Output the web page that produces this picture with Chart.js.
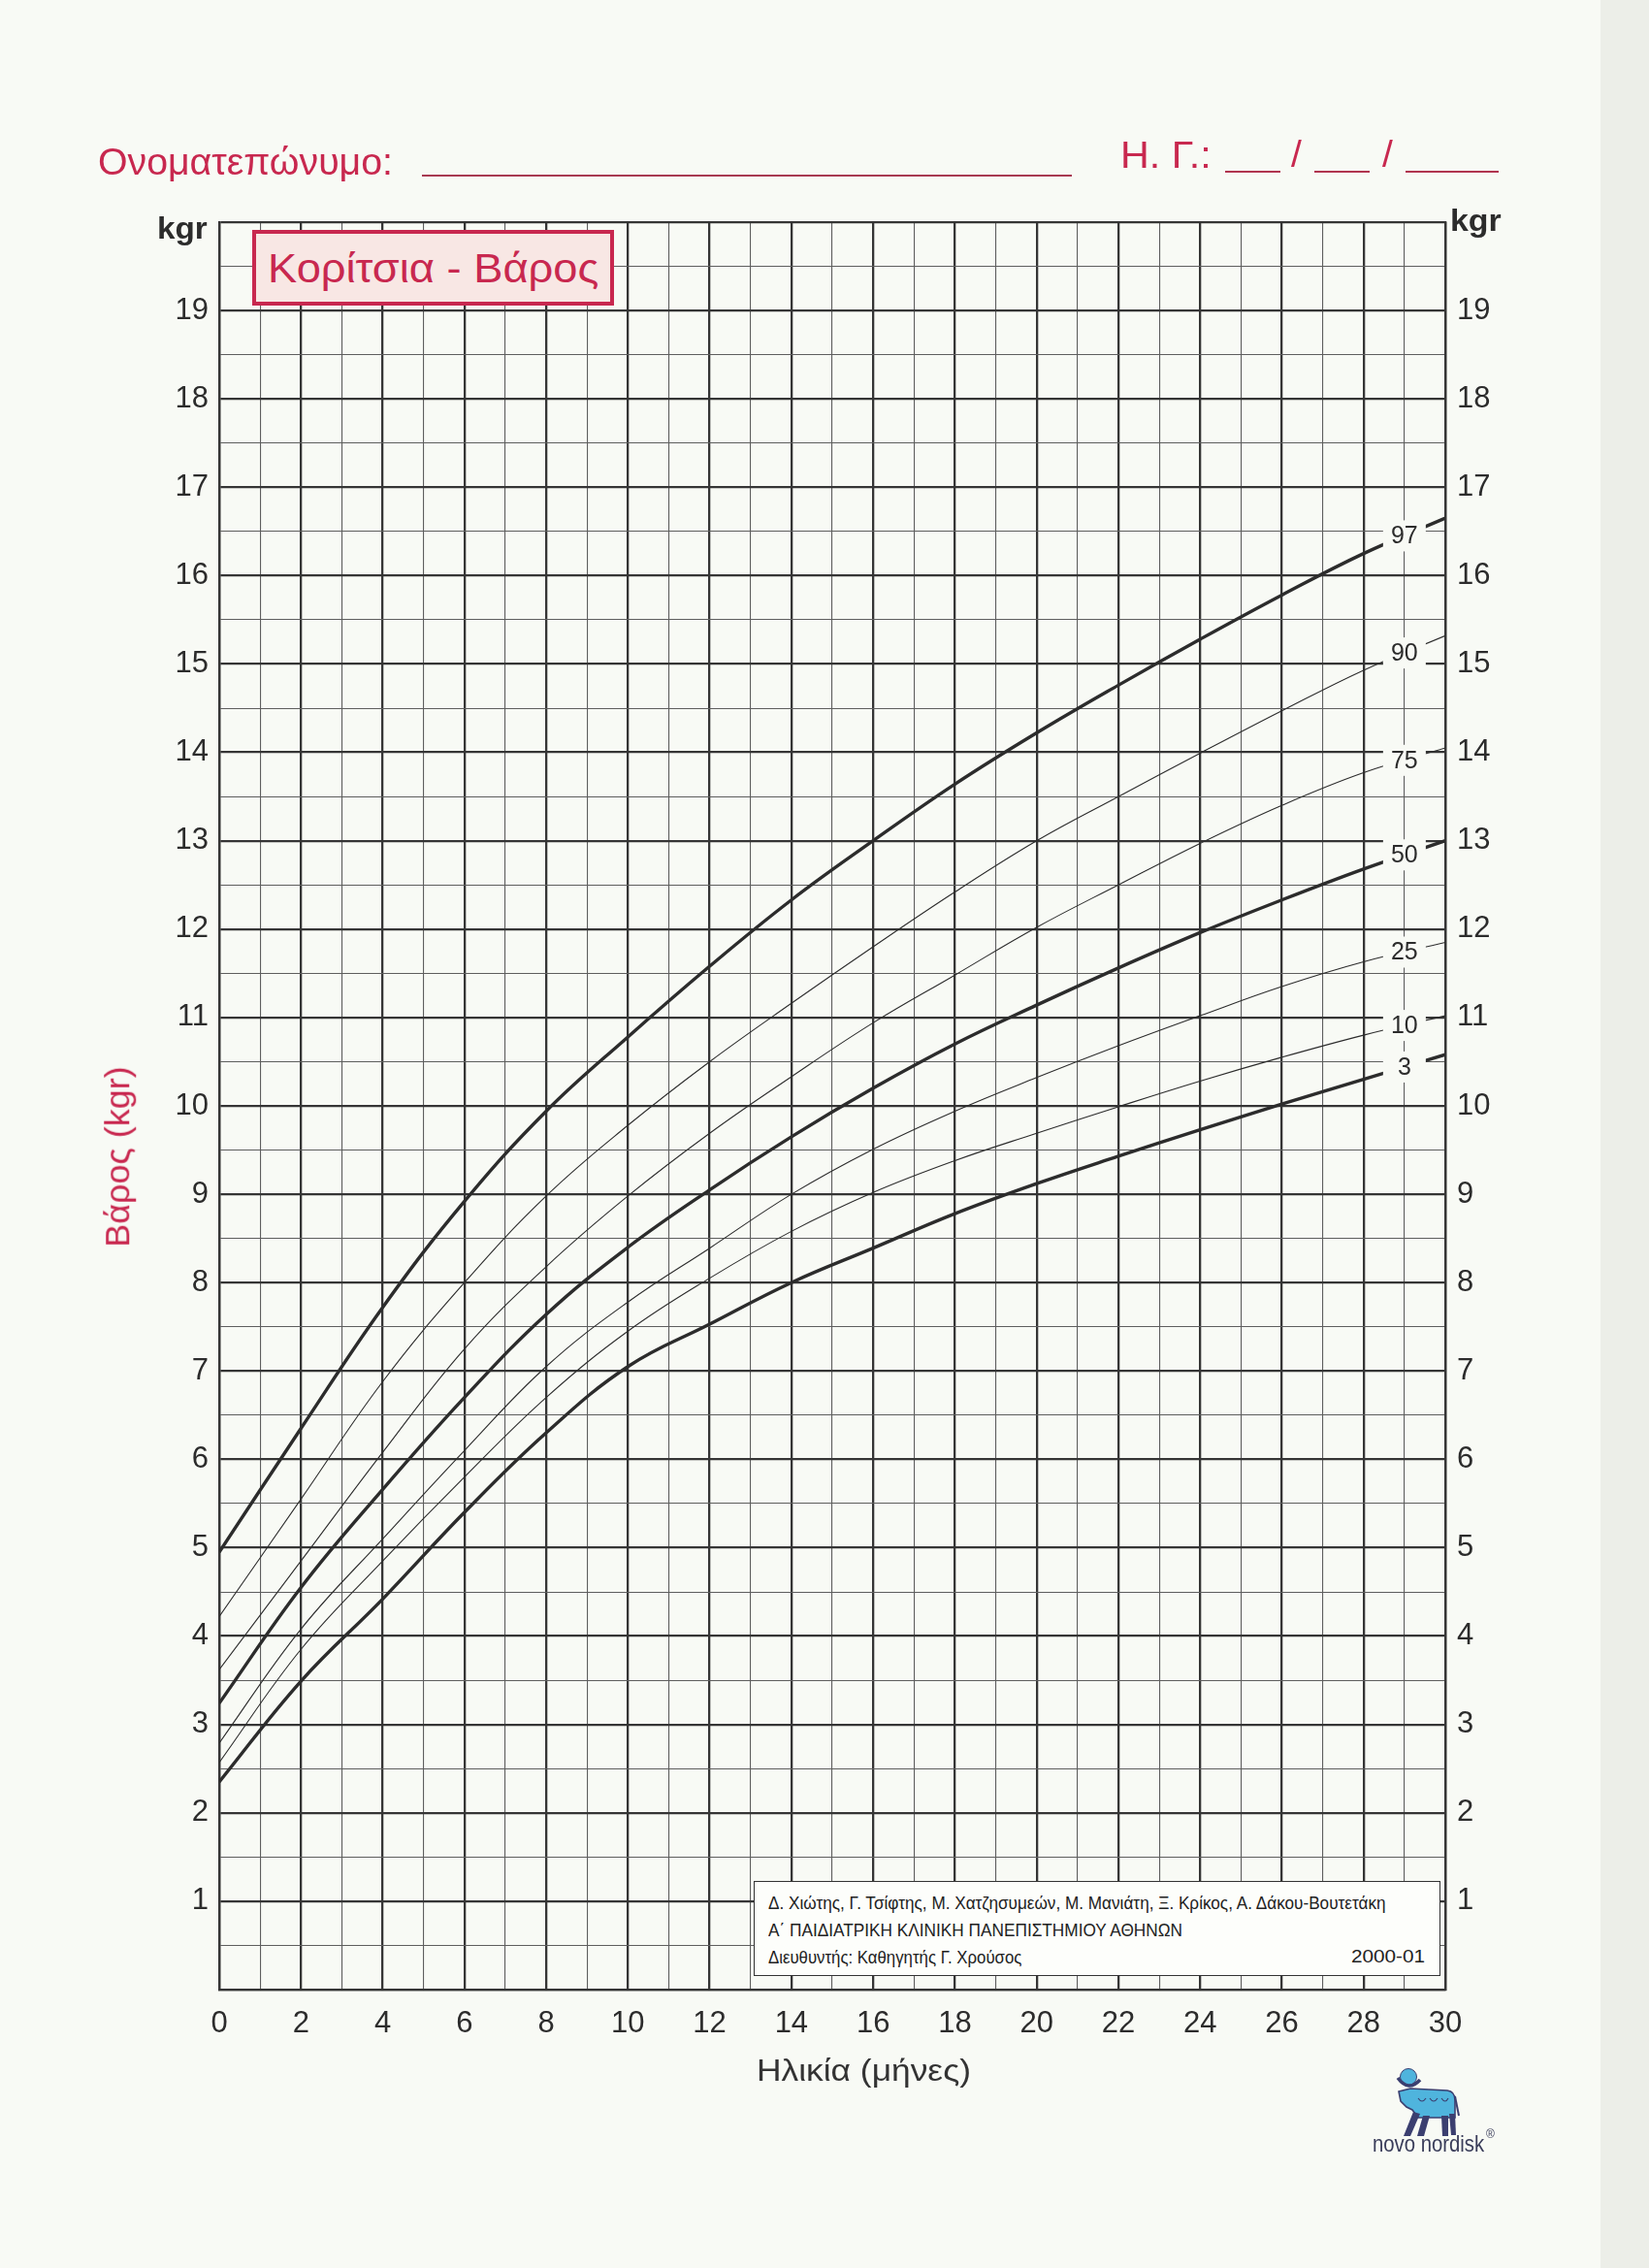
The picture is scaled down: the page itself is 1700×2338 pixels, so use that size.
<!DOCTYPE html>
<html>
<head>
<meta charset="utf-8">
<script src="https://cdn.jsdelivr.net/npm/chart.js@4.4.1/dist/chart.umd.min.js"></script>
<style>
  html, body { margin: 0; padding: 0; background: #f8faf5; }
  #page { position: relative; width: 1700px; height: 2338px; overflow: hidden; background: #f8faf5; }
  #edge { position: absolute; left: 1650px; top: 0; width: 50px; height: 2338px; background: #eceee8; }
  #chart { position: absolute; left: 0; top: 0; }
  .t { position: absolute; white-space: nowrap; font-family: "Liberation Sans", Arial, sans-serif; line-height: 1; }
  .box { position: absolute; box-sizing: border-box; }
  .hl { position: absolute; height: 0; border-top: 2px solid #b0354f; }
</style>
</head>
<body>
<div id="page">
  <div id="edge"></div>
  <canvas id="chart" width="1700" height="2338"></canvas>
</div>
<script>
// ---------------- DATA ----------------
const MONTHS = [0, 2, 4, 6, 8, 10, 12, 14, 16, 18, 20, 22, 24, 26, 28, 30];
const P97 = [4.95, 6.35, 7.72, 8.92, 9.94, 10.78, 11.58, 12.33, 13.00, 13.64, 14.22, 14.76, 15.28, 15.78, 16.25, 16.65];
const P90 = [4.22, 5.55, 6.88, 8.00, 8.98, 9.78, 10.50, 11.16, 11.80, 12.42, 13.00, 13.50, 13.99, 14.47, 14.93, 15.32];
const P75 = [3.62, 4.85, 6.08, 7.25, 8.18, 8.98, 9.69, 10.33, 10.94, 11.48, 12.02, 12.50, 12.97, 13.40, 13.77, 14.05];
const P50 = [3.24, 4.55, 5.66, 6.70, 7.64, 8.40, 9.05, 9.65, 10.20, 10.70, 11.14, 11.56, 11.96, 12.33, 12.68, 13.00];
const P25 = [2.79, 4.08, 5.10, 6.10, 7.05, 7.78, 8.39, 9.00, 9.51, 9.94, 10.32, 10.68, 11.02, 11.35, 11.63, 11.85];
const P10 = [2.57, 3.85, 4.85, 5.80, 6.70, 7.45, 8.05, 8.58, 9.02, 9.38, 9.69, 9.99, 10.28, 10.55, 10.80, 11.02];
const P3  = [2.35, 3.49, 4.42, 5.40, 6.30, 7.05, 7.53, 8.00, 8.39, 8.78, 9.12, 9.43, 9.73, 10.02, 10.30, 10.58];

const SERIES_NAMES = ['97', '90', '75', '50', '25', '10', '3'];
const SERIES_VALUES = [P97, P90, P75, P50, P25, P10, P3];
const THICK_SERIES = ['97', '50', '3'];
const LABEL_MONTH = 29;

const X_TICK_LABELS = [0, 2, 4, 6, 8, 10, 12, 14, 16, 18, 20, 22, 24, 26, 28, 30];
const Y_TICK_LABELS = [1, 2, 3, 4, 5, 6, 7, 8, 9, 10, 11, 12, 13, 14, 15, 16, 17, 18, 19];
const X_MIN = 0, X_MAX = 30, Y_MIN = 0, Y_MAX = 20;

// ---------------- STYLE ----------------
const PAPER = '#f8faf5';
const INK = '#2c2c2c';
const MAJOR = '#353535';
const MINOR = '#5e5e5e';
const CRIMSON = '#c8284f';
const TICK_FONT = { family: '"Liberation Sans", Arial, sans-serif', size: 31 };

function lerpAt(month, vals) {
  for (let i = 0; i < MONTHS.length - 1; i++) {
    if (month >= MONTHS[i] && month <= MONTHS[i + 1]) {
      const f = (month - MONTHS[i]) / (MONTHS[i + 1] - MONTHS[i]);
      return vals[i] + f * (vals[i + 1] - vals[i]);
    }
  }
  return vals[vals.length - 1];
}

const datasets = SERIES_NAMES.map((name, k) => ({
  label: name,
  data: MONTHS.map((m, i) => ({ x: m, y: SERIES_VALUES[k][i] })),
  borderColor: INK,
  borderWidth: THICK_SERIES.includes(name) ? 3.4 : 1.1,
  pointRadius: 0,
  tension: 0.4,
  fill: false
}));

const curveLabels = {
  id: 'curveLabels',
  afterDatasetsDraw(chart) {
    const ctx = chart.ctx;
    const xs = chart.scales.x, ys = chart.scales.y;
    ctx.save();
    ctx.font = '25px "Liberation Sans", Arial, sans-serif';
    ctx.textAlign = 'center';
    ctx.textBaseline = 'middle';
    SERIES_NAMES.forEach((name, k) => {
      const v = lerpAt(LABEL_MONTH, SERIES_VALUES[k]);
      const px = xs.getPixelForValue(LABEL_MONTH);
      const py = ys.getPixelForValue(v);
      ctx.fillStyle = PAPER;
      ctx.fillRect(px - 22, py - 16, 44, 32);
      ctx.fillStyle = INK;
      ctx.fillText(name, px, py + 1);
    });
    ctx.restore();
  }
};

const chart = new Chart(document.getElementById('chart'), {
  type: 'line',
  data: { datasets },
  options: {
    responsive: false,
    devicePixelRatio: 1,
    animation: false,
    events: [],
    layout: { padding: { top: 229, left: 0, right: 0, bottom: 0 } },
    plugins: { legend: { display: false }, tooltip: { enabled: false }, title: { display: false } },
    scales: {
      x: {
        type: 'linear', min: X_MIN, max: X_MAX,
        afterFit(s) { s.height = 287; },
        border: { display: true, color: MAJOR, width: 2.3 },
        grid: {
          drawTicks: false,
          color: ctx => (ctx.tick.value % 2 === 0 ? MAJOR : MINOR),
          lineWidth: ctx => (ctx.tick.value % 2 === 0 ? 2.3 : 1.1)
        },
        ticks: {
          stepSize: 1, autoSkip: false, maxRotation: 0, minRotation: 0, padding: 17,
          color: INK, font: TICK_FONT,
          callback: v => (X_TICK_LABELS.includes(v) ? String(v) : '')
        }
      },
      y: {
        type: 'linear', position: 'left', min: Y_MIN, max: Y_MAX,
        afterFit(s) { s.width = 226; },
        border: { display: true, color: MAJOR, width: 2.3 },
        grid: {
          drawTicks: false,
          color: ctx => (Number.isInteger(ctx.tick.value) ? MAJOR : MINOR),
          lineWidth: ctx => (Number.isInteger(ctx.tick.value) ? 2.3 : 1.1)
        },
        ticks: {
          stepSize: 0.5, autoSkip: false, padding: 11, color: INK, font: TICK_FONT,
          callback: v => (Y_TICK_LABELS.includes(v) ? String(v) : '')
        }
      },
      y2: {
        type: 'linear', position: 'right', min: Y_MIN, max: Y_MAX,
        afterFit(s) { s.width = 210; },
        border: { display: true, color: MAJOR, width: 2.3 },
        grid: { display: false, drawTicks: false },
        ticks: {
          stepSize: 1, autoSkip: false, padding: 12, color: INK, font: TICK_FONT,
          callback: v => (Y_TICK_LABELS.includes(v) ? String(v) : '')
        }
      }
    }
  },
  plugins: [curveLabels]
});

// ---------------- HTML TEXT & DECORATIONS ----------------
const page = document.getElementById('page');

function place(txt, o) {
  const s = document.createElement('span');
  s.className = 't';
  s.textContent = txt;
  s.style.fontSize = o.fs + 'px';
  if (o.bold) s.style.fontWeight = 'bold';
  s.style.color = o.color || INK;
  page.appendChild(s);
  const w = s.offsetWidth, h = s.offsetHeight;
  const k = o.w ? o.w / w : 1;
  if (o.rot) {
    s.style.left = (o.cx - w / 2) + 'px';
    s.style.top = (o.cy - h / 2) + 'px';
    s.style.transform = 'rotate(-90deg) scaleX(' + k + ')';
  } else {
    const dw = w * k;
    const left = o.align === 'right' ? o.x - dw : (o.align === 'center' ? o.x - dw / 2 : o.x);
    s.style.left = left + 'px';
    s.style.top = (o.base - 0.847 * o.fs) + 'px';
    s.style.transformOrigin = '0 0';
    s.style.transform = 'scaleX(' + k + ')';
  }
  return s;
}
function hline(x1, x2, y, color) {
  const d = document.createElement('div');
  d.className = 'hl';
  d.style.left = x1 + 'px'; d.style.top = y + 'px'; d.style.width = (x2 - x1) + 'px';
  if (color) d.style.borderTopColor = color;
  page.appendChild(d);
}
function box(x, y, w, h, css) {
  const d = document.createElement('div');
  d.className = 'box';
  d.style.left = x + 'px'; d.style.top = y + 'px'; d.style.width = w + 'px'; d.style.height = h + 'px';
  Object.assign(d.style, css);
  page.appendChild(d);
  return d;
}

// Header
place('Ονοματεπώνυμο:', { x: 101, base: 180, fs: 39, color: CRIMSON, w: 304 });
hline(435, 1105, 180, '#a83a52');
place('Η. Γ.:', { x: 1155, base: 173, fs: 39, color: CRIMSON, w: 94 });
hline(1263, 1320, 176);
place('/', { x: 1331, base: 172, fs: 39, color: CRIMSON });
hline(1355, 1412, 176);
place('/', { x: 1425, base: 172, fs: 39, color: CRIMSON });
hline(1449, 1545, 176);

// Title box
box(260, 237, 373, 78, { border: '4px solid ' + CRIMSON, background: '#f8e7e4' });
place('Κορίτσια - Βάρος', { x: 276, base: 291, fs: 43, color: CRIMSON, w: 341 });

// kgr units
place('kgr', { x: 214, base: 246, fs: 32, bold: true, align: 'right', w: 52 });
place('kgr', { x: 1495, base: 238, fs: 32, bold: true, w: 53 });

// Axis titles
place('Βάρος (kgr)', { rot: true, cx: 120, cy: 1192, fs: 35, color: CRIMSON, w: 186 });
place('Ηλικία (μήνες)', { x: 780, base: 2145, fs: 32, color: '#333', w: 221 });

// Credits box
box(777, 1939, 708, 98, { border: '1.5px solid #333', background: '#fdfefb' });
place('Δ. Χιώτης, Γ. Τσίφτης, Μ. Χατζησυμεών, Μ. Μανιάτη, Ξ. Κρίκος, Α. Δάκου-Βουτετάκη',
  { x: 792, base: 1968, fs: 18, color: '#222', w: 637 });
place('Α΄ ΠΑΙΔΙΑΤΡΙΚΗ ΚΛΙΝΙΚΗ ΠΑΝΕΠΙΣΤΗΜΙΟΥ ΑΘΗΝΩΝ', { x: 792, base: 1996, fs: 18, color: '#222', w: 427 });
place('Διευθυντής: Καθηγητής Γ. Χρούσος', { x: 792, base: 2024, fs: 18, color: '#222', w: 261 });
place('2000-01', { x: 1469, base: 2023, fs: 18, color: '#222', align: 'right', w: 76 });

// Logo (Apis bull) + wordmark
const svgNS = 'http://www.w3.org/2000/svg';
const svg = document.createElementNS(svgNS, 'svg');
svg.setAttribute('width', '90'); svg.setAttribute('height', '85');
svg.style.position = 'absolute'; svg.style.left = '1430px'; svg.style.top = '2125px';
svg.innerHTML =
  '<circle cx="22" cy="16" r="8.5" fill="#4fb4dd" stroke="#3b3f70" stroke-width="1"/>' +
  '<path d="M11,17 Q22,32 34,19" fill="none" stroke="#3b3f70" stroke-width="3.5"/>' +
  '<path d="M12,31 L24,28 L62,30 Q70,31 70,40 L70,58 L32,58 L26,50 L20,47 L14,41 Z" fill="#4fb4dd" stroke="#3b3f70" stroke-width="1.6"/>' +
  '<path d="M32,38 Q36,44 40,38 M44,38 Q48,44 52,38 M56,38 Q60,44 63,38" fill="none" stroke="#3b3f70" stroke-width="1.2"/>' +
  '<path d="M27,52 L34,54 L24,77 L17,77 Z" fill="#3b3f70"/>' +
  '<path d="M37,56 L44,56 L38,77 L31,77 Z" fill="#3b3f70"/>' +
  '<path d="M56,56 L63,56 L63,77 L57,77 Z" fill="#3b3f70"/>' +
  '<path d="M64,54 L70,54 L71,76 L66,76 Z" fill="#3b3f70"/>' +
  '<path d="M70,36 L74,56" stroke="#3b3f70" stroke-width="2" fill="none"/>';
page.appendChild(svg);
place('novo nordisk', { x: 1415, base: 2218, fs: 24, color: '#3a3d5a', w: 115 });
place('®', { x: 1532, base: 2204, fs: 12, color: '#3a3d5a' });
</script>
</body>
</html>
